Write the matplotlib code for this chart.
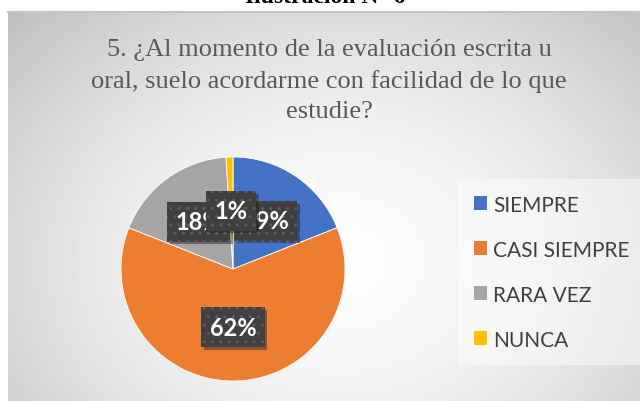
import numpy as np
import matplotlib
matplotlib.use("Agg")
import matplotlib.pyplot as plt
import matplotlib.patheffects as pe
from matplotlib.patches import Patch

# datos de la pregunta 5
categorias = ["SIEMPRE", "CASI SIEMPRE", "RARA VEZ", "NUNCA"]
porcentajes = [19, 62, 18, 1]
colores = ["#4472C4", "#ED7D31", "#A5A5A5", "#FFC000"]
titulo = "5. ¿Al momento de la evaluación escrita u\noral, suelo acordarme con facilidad de lo que\nestudie?"
ilustracion = "Ilustración N° 6"

W, H = 640, 402
fig = plt.figure(figsize=(W / 100, H / 100), dpi=100)
fig.patch.set_facecolor("white")

# panel gris con degradado radial
bg = fig.add_axes([8 / W, 0, 1 - 8 / W, (H - 13) / H])
yy, xx = np.mgrid[0:389, 0:632]
d = np.sqrt(((xx - 330) / 430.0) ** 2 + ((yy - 250) / 340.0) ** 2)
val = 0.99 - 0.22 * np.clip(d, 0, 1.2) ** 1.7
bg.imshow(val, cmap="gray", vmin=0, vmax=1, aspect="auto", interpolation="bilinear")
bg.set_axis_off()
fig.add_artist(plt.Line2D([8 / W, 1], [(H - 13) / H] * 2, color="#c4c4c4", lw=1.5))

# encabezado cortado
fig.text(325 / W, (H - 3) / H, ilustracion, ha="center", va="baseline",
         family="Liberation Serif", weight="bold", fontsize=17, color="black")

fig.text(329 / W, (H - 81) / H, titulo, ha="center", va="center",
         family="Liberation Serif", fontsize=19, color="#595959", linespacing=1.47)

# pastel
cx, cy, r = 233, 270, 112
ax = fig.add_axes([(cx - r) / W, (H - cy - r) / H, 2 * r / W, 2 * r / H])
wedges, textos, autotextos = ax.pie(
    porcentajes, colors=colores, startangle=90, counterclock=False,
    autopct="%1.0f%%", pctdistance=0.52,
    wedgeprops=dict(edgecolor="white", linewidth=0.6),
    textprops=dict(color="white", fontsize=17, weight="bold", family="Lato"))
ax.set_xlim(-1, 1)
ax.set_ylim(-1, 1)
ax.set_aspect("auto")

orden = [0, 2, 3, 1]
for i in orden:
    t = autotextos[i]
    t.set_bbox(dict(boxstyle="square,pad=0.35", facecolor="#404040", edgecolor="#5c5c5c",
                    hatch="..", linewidth=0))
    t.get_bbox_patch().set_path_effects([pe.SimplePatchShadow(offset=(2, -2), alpha=0.4), pe.Normal()])
    t.set_zorder(5 + orden.index(i))

# leyenda
handles = [Patch(facecolor=c, edgecolor="none") for c in colores]
leg = fig.legend(handles, categorias, loc="upper left",
                 bbox_to_anchor=(458 / W, (H - 180) / H),
                 frameon=True, fancybox=False, framealpha=0.45,
                 facecolor="white", edgecolor="none",
                 prop=dict(family="Lato", size=15), labelcolor="#404040",
                 handlelength=0.65, handleheight=0.65, handletextpad=0.3,
                 labelspacing=1.2, borderpad=0.75, borderaxespad=0)

fig.savefig("out.png", dpi=100)
